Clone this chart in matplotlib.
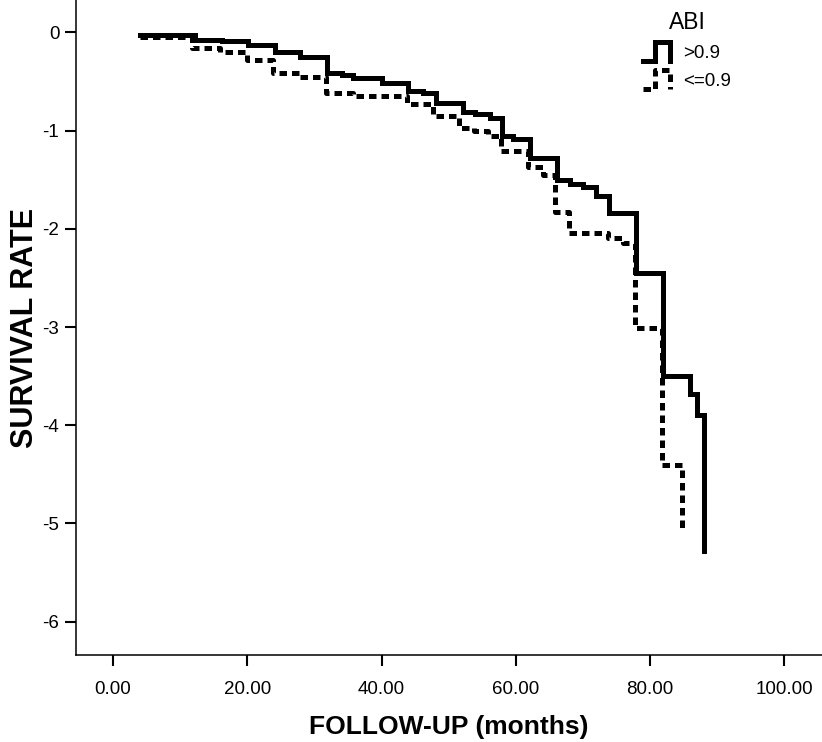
import matplotlib
matplotlib.use("Agg")
import matplotlib.pyplot as plt
from matplotlib.lines import Line2D
from matplotlib.legend_handler import HandlerBase
from matplotlib.ticker import FuncFormatter

plt.rcParams['font.family'] = ['Liberation Sans', 'DejaVu Sans']

# ABI > 0.9
high_months = [4.0, 12.2, 16.2, 20.1, 24.1, 27.9, 31.9, 34.1, 35.8, 40.0, 44.0, 46.2,
               48.1, 52.1, 53.9, 56.2, 57.9, 59.6, 62.1, 66.1, 68.0, 70.0, 72.0, 73.9,
               77.9, 81.9, 85.9, 87.0, 88.0]
high_rate = [-0.03, -0.08, -0.09, -0.13, -0.20, -0.25, -0.41, -0.43, -0.46, -0.52, -0.60,
             -0.62, -0.72, -0.81, -0.83, -0.87, -1.06, -1.09, -1.28, -1.50, -1.54, -1.57,
             -1.67, -1.84, -2.45, -3.50, -3.68, -3.90, -5.28]

# ABI <= 0.9
low_months = [4.0, 11.8, 15.9, 19.9, 23.9, 27.9, 31.8, 35.8, 43.8, 47.7, 51.6, 53.7,
              55.9, 57.8, 61.8, 64.1, 65.9, 67.9, 73.8, 75.9, 77.8, 81.8, 84.8]
low_rate = [-0.05, -0.16, -0.20, -0.28, -0.41, -0.45, -0.62, -0.65, -0.73, -0.85, -0.97,
            -1.00, -1.06, -1.21, -1.37, -1.45, -1.83, -2.04, -2.09, -2.14, -3.01, -4.41,
            -5.06]

x_ticks = [0, 20, 40, 60, 80, 100]
y_ticks = [0, -1, -2, -3, -4, -5, -6]


class StepHandler(HandlerBase):
    """Draw the legend key as a small step, like SPSS does."""
    def create_artists(self, legend, orig_handle, xdescent, ydescent,
                       width, height, fontsize, trans):
        x0 = -xdescent
        y0 = -ydescent
        xs = [x0, x0 + 0.45 * width, x0 + 0.45 * width, x0 + width, x0 + width]
        ys = [y0, y0, y0 + height, y0 + height, y0]
        line = Line2D(xs, ys)
        line.update_from(orig_handle)
        line.set_transform(trans)
        return [line]


fig = plt.figure(figsize=(8.22, 7.42), dpi=100)
ax = fig.add_axes([76 / 822, 87 / 742, 1 - 76 / 822, 1 - 87 / 742])

solid, = ax.step(high_months, high_rate, where="post", color="black", lw=3.6,
                 solid_joinstyle="miter", label=">0.9")
dashed, = ax.step(low_months, low_rate, where="post", color="black", lw=3.6,
                  linestyle=(0, (1.5, 1.0)), dash_capstyle="butt", label="<=0.9")

ax.set_xlim(-5.5, 105.6)
ax.set_ylim(-6.34, 0.33)
ax.set_xticks(x_ticks)
ax.set_yticks(y_ticks)
ax.xaxis.set_major_formatter(FuncFormatter(lambda v, p: f"{v:.2f}"))
ax.yaxis.set_major_formatter(FuncFormatter(lambda v, p: f"{int(v)}"))
ax.tick_params(axis="both", length=8, width=1.5, labelsize=13.5, color="black")
ax.tick_params(axis="x", pad=11)
ax.tick_params(axis="y", pad=4)

for side in ["top", "right"]:
    ax.spines[side].set_visible(False)
for side in ["left", "bottom"]:
    ax.spines[side].set_linewidth(1.1)

ax.set_xlabel("FOLLOW-UP (months)", fontsize=19, fontweight="bold", labelpad=12)
ax.set_ylabel("SURVIVAL RATE", fontsize=22, fontweight="bold", labelpad=2)

leg = ax.legend(handles=[solid, dashed], title="ABI", frameon=False,
                loc="upper left", bbox_to_anchor=(643 / 822, 1 - 11 / 742),
                bbox_transform=fig.transFigure, fontsize=13.5, title_fontsize=16.5,
                handlelength=1.45, handleheight=1.12, handletextpad=0.7,
                labelspacing=0.45, borderpad=0.0, borderaxespad=0.0,
                handler_map={Line2D: StepHandler()})

fig.savefig("out.png", dpi=100)
